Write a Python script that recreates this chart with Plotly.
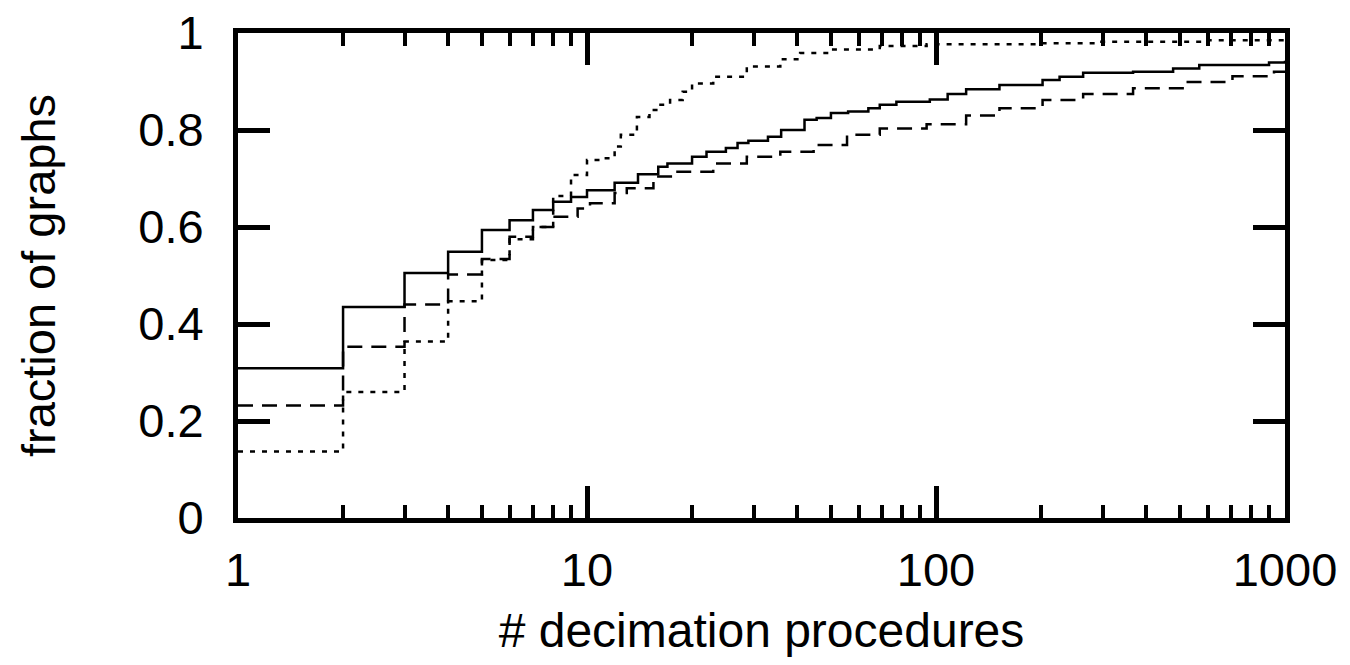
import plotly.graph_objects as go

# Solid curve
solid_x = [1, 2, 3, 4, 5, 6, 7, 8, 9, 10, 12, 14, 16, 17, 20, 22, 25, 27, 29, 33, 36, 42, 45.5,
           50, 56, 64, 69, 77, 96, 108, 122, 152, 202, 226, 264, 367, 478, 568, 900, 1000]
solid_y = [0.309, 0.435, 0.505, 0.549, 0.594, 0.614, 0.635, 0.652, 0.662, 0.676, 0.691, 0.709,
           0.724, 0.731, 0.745, 0.755, 0.763, 0.773, 0.778, 0.786, 0.800, 0.821, 0.825, 0.835,
           0.838, 0.845, 0.852, 0.858, 0.863, 0.874, 0.884, 0.893, 0.903, 0.910, 0.918, 0.920,
           0.927, 0.934, 0.939, 0.943]

# Dashed curve
dashed_x = [1, 2, 3, 4, 5, 6, 7, 8, 9.4, 10.2, 12, 13, 15.5, 17.6, 23, 28.7, 35.8, 44.6, 55.6,
            69, 94, 122, 152, 202, 264, 367, 509, 707, 930, 1000]
dashed_y = [0.232, 0.353, 0.44, 0.502, 0.534, 0.58, 0.60, 0.621, 0.638, 0.649, 0.67, 0.68,
            0.704, 0.714, 0.731, 0.745, 0.755, 0.769, 0.79, 0.803, 0.812, 0.83, 0.845, 0.862,
            0.874, 0.886, 0.899, 0.911, 0.92, 0.922]

# Dotted curve
dotted_x = [1, 2, 3, 4, 5, 6, 7, 8, 9, 10, 10.9, 12, 12.5, 13.9, 15.1, 16.1, 17.3, 18.8, 20, 23,
            28.7, 35.8, 40.8, 49.6, 69, 94, 202, 293, 600, 1000]
dotted_y = [0.137, 0.26, 0.364, 0.447, 0.532, 0.575, 0.60, 0.664, 0.707, 0.738, 0.742, 0.766,
            0.79, 0.827, 0.841, 0.852, 0.862, 0.879, 0.896, 0.91, 0.931, 0.946, 0.959, 0.966,
            0.973, 0.977, 0.979, 0.982, 0.985, 0.987]

x_ticks = [1, 10, 100, 1000]
x_tick_labels = ["1", "10", "100", "1000"]
y_ticks = [0, 0.2, 0.4, 0.6, 0.8, 1]
y_tick_labels = ["0", "0.2", "0.4", "0.6", "0.8", "1"]

FONT = "Liberation Sans, Arial, sans-serif"

fig = go.Figure()
fig.add_trace(go.Scatter(x=solid_x, y=solid_y, mode="lines", line_shape="hv",
                         line=dict(color="black", width=2.5), showlegend=False))
fig.add_trace(go.Scatter(x=dashed_x, y=dashed_y, mode="lines", line_shape="hv",
                         line=dict(color="black", width=2.5, dash="15px,9px"), showlegend=False))
fig.add_trace(go.Scatter(x=dotted_x, y=dotted_y, mode="lines", line_shape="hv",
                         line=dict(color="black", width=2.5, dash="5px,7px"), showlegend=False))

fig.update_layout(
    width=1350, height=665,
    margin=dict(l=238, r=65, t=33, b=147),
    paper_bgcolor="white", plot_bgcolor="white",
    font=dict(family=FONT, size=47, color="black"),
    xaxis=dict(
        type="log", range=[0, 3], automargin=False,
        tickvals=x_ticks, ticktext=x_tick_labels,
        ticks="inside", ticklen=32, tickwidth=5, tickcolor="black",
        minor=dict(ticks="inside", ticklen=13, tickwidth=4, tickcolor="black",
                   dtick="D1", showgrid=False),
        showline=True, linewidth=5, linecolor="black", mirror="ticks",
        showgrid=False, zeroline=False,
        ticklabelstandoff=7,
        title=dict(text="# decimation procedures", standoff=19,
                   font=dict(family=FONT, size=48)),
    ),
    yaxis=dict(
        range=[0, 1], automargin=False,
        tickvals=y_ticks, ticktext=y_tick_labels,
        ticks="inside", ticklen=32, tickwidth=5, tickcolor="black",
        showline=True, linewidth=5, linecolor="black", mirror="ticks",
        showgrid=False, zeroline=False,
        ticklabelstandoff=20,
        title=dict(text="fraction of graphs", standoff=69,
                   font=dict(family=FONT, size=47)),
    ),
)

fig.write_html("out.html", config={"displayModeBar": False},
               post_script="document.body.style.margin='0';document.body.style.overflow='hidden';")
